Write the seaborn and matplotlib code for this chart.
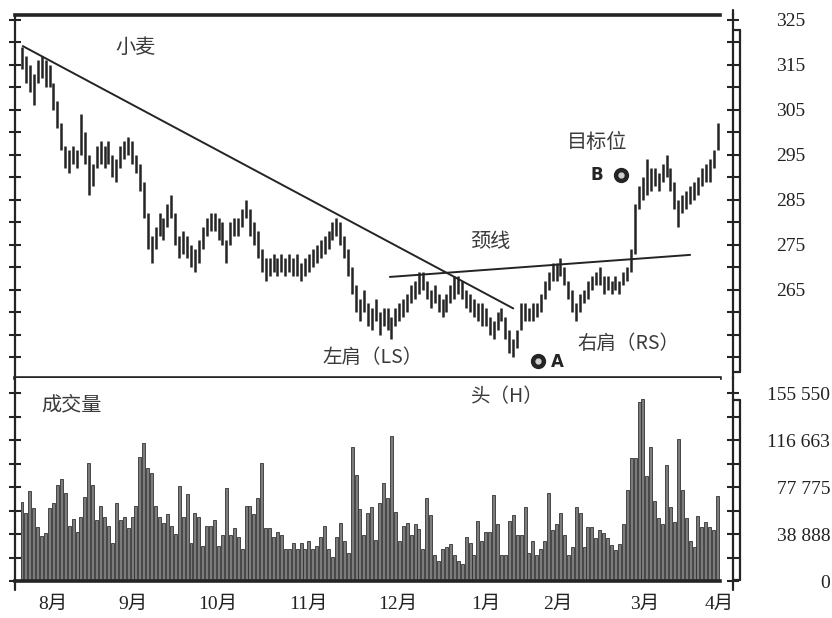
import matplotlib
matplotlib.use('Agg')
import matplotlib.pyplot as plt
import seaborn as sns
import numpy as np
import pandas as pd
from matplotlib.lines import Line2D
from matplotlib.ticker import MultipleLocator, FixedLocator

# ---------------- data ----------------
highs = [319, 317, 315, 313, 316, 317, 316, 315, 311, 307,
         302, 297, 296, 297, 296, 304, 300, 295, 293, 297,
         298, 297, 298, 295, 294, 297, 298, 299, 298, 295,
         293, 289, 282, 277, 279, 282, 281, 284, 286, 282,
         277, 278, 277, 275, 274, 276, 279, 281, 282, 282,
         281, 280, 276, 280, 281, 281, 283, 285, 283, 280,
         278, 274, 272, 272, 273, 272, 273, 272, 273, 272,
         273, 271, 272, 273, 274, 275, 276, 277, 278, 280,
         281, 280, 277, 274, 270, 266, 263, 265, 262, 261,
         263, 260, 261, 261, 259, 261, 262, 263, 264, 266,
         267, 269, 269, 267, 265, 266, 264, 263, 264, 266,
         268, 268, 267, 265, 264, 263, 262, 262, 261, 259,
         258, 260, 261, 259, 256, 254, 256, 262, 262, 261,
         262, 262, 264, 267, 269, 271, 271, 272, 270, 267,
         265, 262, 264, 265, 267, 268, 269, 270, 268, 268,
         267, 268, 267, 269, 270, 274, 284, 288, 290, 294,
         292, 292, 291, 293, 295, 292, 289, 285, 286, 287,
         288, 289, 290, 292, 293, 294, 296, 302]
lows = [314, 311, 309, 306, 311, 312, 310, 310, 305, 301,
        296, 292, 291, 293, 292, 295, 293, 286, 288, 292,
        293, 292, 293, 290, 289, 292, 294, 295, 293, 291,
        287, 281, 274, 271, 274, 277, 276, 279, 281, 275,
        272, 273, 272, 270, 269, 271, 274, 277, 278, 278,
        276, 275, 271, 275, 277, 277, 279, 281, 277, 275,
        272, 269, 267, 268, 269, 268, 269, 268, 269, 268,
        268, 267, 268, 269, 270, 271, 272, 273, 274, 276,
        277, 275, 272, 268, 264, 260, 258, 260, 257, 256,
        258, 255, 257, 256, 254, 257, 258, 259, 260, 262,
        263, 264, 265, 263, 261, 262, 260, 259, 260, 262,
        263, 264, 263, 261, 260, 259, 258, 257, 257, 255,
        254, 256, 258, 254, 251, 250, 252, 256, 258, 258,
        258, 259, 260, 263, 265, 267, 267, 268, 266, 263,
        260, 258, 260, 262, 263, 265, 266, 266, 264, 265,
        264, 265, 264, 266, 267, 269, 273, 283, 285, 286,
        287, 288, 287, 289, 290, 287, 283, 279, 282, 283,
        284, 285, 286, 288, 289, 289, 292, 296]
volume = [65400, 56300, 74500, 60400, 44700, 37200, 39700, 60400, 64500, 79400,
          84400, 72800, 45500, 51300, 40500, 53000, 69500, 97600, 79400, 50500,
          62000, 53000, 45500, 31400, 64500, 50500, 53000, 43900, 53000, 62000,
          102600, 114200, 93500, 89400, 62000, 53000, 48000, 55400, 45500, 38900,
          78600, 53000, 72000, 31400, 56300, 53200, 29000, 45500, 45500, 50500,
          29000, 38000, 77000, 38000, 43900, 36400, 26500, 62000, 62000, 55400,
          68700, 97600, 43900, 43900, 36400, 40500, 38000, 26500, 26500, 31400,
          26500, 31400, 26500, 33000, 26500, 29000, 36400, 45500, 26500, 19900,
          36400, 48000, 33000, 23200, 110900, 87700, 59600, 38000, 56300, 61000,
          34000, 64500, 81300, 68700, 120000, 57300, 33300, 45500, 47700, 38000,
          47200, 42800, 26200, 68700, 54600, 21500, 16800, 26200, 28400, 30600,
          21500, 16800, 14100, 36200, 31200, 21500, 49900, 33300, 40800, 40800,
          71200, 47200, 21500, 21500, 49900, 54600, 38000, 38000, 61500, 23400,
          33300, 21500, 26200, 33300, 73000, 42200, 47200, 56500, 38000, 21500,
          27900, 61000, 56500, 28400, 44900, 44900, 35300, 42200, 40000, 35300,
          29800, 25600, 30600, 47200, 75300, 101500, 101500, 148400, 150300, 86900,
          110600, 66400, 51900, 47200, 96000, 61000, 49100, 117200, 75300, 51900,
          33300, 28400, 53800, 44900, 49100, 44900, 42200, 70300]

month_labels = ['8月', '9月', '10月', '11月', '12月', '1月', '2月', '3月', '4月']
month_pos = [7.9, 28.2, 49.9, 72.8, 95.7, 118.1, 136.4, 158.5, 177.4]

price_ticks = [265, 275, 285, 295, 305, 315, 325]
price_labels = ['265', '275', '285', '295', '305', '315', '325']
vol_ticks = [0, 38887.5, 77775, 116662.5, 155550]
vol_labels = ['0', '38 888', '77 775', '116 663', '155 550']

trend_x = [0.2, 125.0]
trend_y = [319.2, 260.9]
neck_x = [93.6, 170.0]
neck_y = [267.9, 272.8]

# ---------------- style ----------------
sns.set_theme(style='white')
plt.rcParams['font.family'] = ['Liberation Serif', 'Noto Sans CJK SC', 'DejaVu Sans']
INK = '#242424'
TXT = '#3a3a3a'
CJK = ['Noto Sans CJK SC', 'DejaVu Sans']

W, H = 832, 618
fig = plt.figure(figsize=(W / 100, H / 100), dpi=100)
fig.patch.set_facecolor('white')


def rect(l, t, r, b):
    return [l / W, 1 - b / H, (r - l) / W, (b - t) / H]


ax1 = fig.add_axes(rect(15, 15, 720, 378))
ax2 = fig.add_axes(rect(15, 378, 720, 581))

idx = np.arange(len(highs))

# price bars
ax1.vlines(idx, lows, highs, color=INK, lw=1.8)
sns.lineplot(x=trend_x, y=trend_y, ax=ax1, color=INK, lw=1.4)
sns.lineplot(x=neck_x, y=neck_y, ax=ax1, color=INK, lw=1.4)

# volume bars
df = pd.DataFrame({'i': idx, 'v': volume})
sns.barplot(data=df, x='i', y='v', ax=ax2, color='#7c7c7c', saturation=1,
            width=0.76, edgecolor='#333333', linewidth=0.6)

XL = (-1.78, 177.6)
ax1.set_xlim(*XL)
ax2.set_xlim(*XL)
ax1.set_ylim(245.44, 326.11)
ax2.set_ylim(0, 167962)

for ax in (ax1, ax2):
    ax.set_facecolor('white')
    ax.set_xlabel('')
    ax.set_ylabel('')
    ax.spines['left'].set_linewidth(1.6)
    ax.spines['left'].set_color(INK)
    ax.spines['right'].set_position(('outward', 9.4))
    ax.spines['right'].set_linewidth(1.6)
    ax.spines['right'].set_color(INK)

ax1.spines['top'].set_linewidth(2.6)
ax1.spines['top'].set_color(INK)
ax1.spines['bottom'].set_linewidth(2.6)
ax1.spines['bottom'].set_color(INK)
ax2.spines['top'].set_visible(False)
ax2.spines['bottom'].set_linewidth(2.6)
ax2.spines['bottom'].set_color(INK)

# price y axis
ax1.set_xticks([])
ax1.yaxis.set_major_locator(FixedLocator(price_ticks))
ax1.set_yticklabels(price_labels)
ax1.yaxis.set_minor_locator(MultipleLocator(5))
ax1.tick_params(axis='y', which='both', left=True, right=True, labelleft=False,
                labelright=True, direction='inout', length=8, width=1.5, color=INK,
                labelsize=14, labelcolor='#222222')
ax1.tick_params(axis='y', which='major', pad=27)

# volume y axis
ax2.yaxis.set_major_locator(FixedLocator(vol_ticks))
ax2.set_yticklabels(vol_labels)
ax2.yaxis.set_minor_locator(MultipleLocator(19443.75))
ax2.tick_params(axis='y', which='both', left=True, right=True, labelleft=False,
                labelright=True, direction='inout', length=8, width=1.5, color=INK,
                labelsize=14, labelcolor='#222222')
ax2.tick_params(axis='y', which='major', pad=66)
for lbl in ax2.get_yticklabels():
    lbl.set_horizontalalignment('right')

# months
ax2.set_xticks(month_pos)
ax2.set_xticklabels(month_labels)
ax2.tick_params(axis='x', which='both', bottom=True, length=0, pad=11,
                labelsize=14, labelcolor='#222222')
for lbl in ax2.get_xticklabels():
    lbl.set_family(['Liberation Serif', 'Noto Sans CJK SC'])

# brackets / extensions of the axes
def fline(x0, y0, x1, y1, lw=1.6):
    fig.add_artist(Line2D([x0 / W, x1 / W], [1 - y0 / H, 1 - y1 / H], color=INK, lw=lw))

fline(740, 30, 740, 372)
fline(733, 30, 740, 30)
fline(733, 372, 740, 372)
fline(740, 400, 740, 580)
fline(733, 400, 740, 400)
fline(733, 580, 740, 580)
fline(15, 581, 15, 590)
fline(733, 581, 733, 590)
fline(733, 10, 733, 15)

# annotations
ax1.text(28.8, 319.0, '小麦', fontsize=14.5, family=CJK, color=TXT, ha='center', va='center')
ax1.text(146.3, 297.7, '目标位', fontsize=14.5, family=CJK, color=TXT, ha='center', va='center')
ax1.text(146.3, 290.6, 'B', fontsize=12, fontweight='bold', family=['DejaVu Sans'],
         color=INK, ha='center', va='center')
ax1.plot([152.4], [290.6], 'o', ms=10, color=INK)
ax1.plot([152.4], [290.6], 'o', ms=3.5, color='#cfcfcf')
ax1.text(119.1, 275.7, '颈线', fontsize=14.5, family=CJK, color=TXT, ha='center', va='center')
ax1.text(89.3, 250.1, '左肩（LS）', fontsize=14, family=CJK, color=TXT, ha='center', va='center')
ax1.plot([131.3], [249.2], 'o', ms=10, color=INK)
ax1.plot([131.3], [249.2], 'o', ms=3.5, color='#cfcfcf')
ax1.text(136.1, 249.0, 'A', fontsize=12, fontweight='bold', family=['DejaVu Sans'],
         color=INK, ha='center', va='center')
ax1.text(154.2, 253.2, '右肩（RS）', fontsize=14, family=CJK, color=TXT, ha='center', va='center')
ax2.text(123.4, 152200, '头（H）', fontsize=14, family=CJK, color=TXT, ha='center', va='center')
ax2.text(12.7, 145600, '成交量', fontsize=14.5, family=CJK, color=TXT, ha='center', va='center')

fig.savefig('out.png', dpi=100, facecolor='white')
